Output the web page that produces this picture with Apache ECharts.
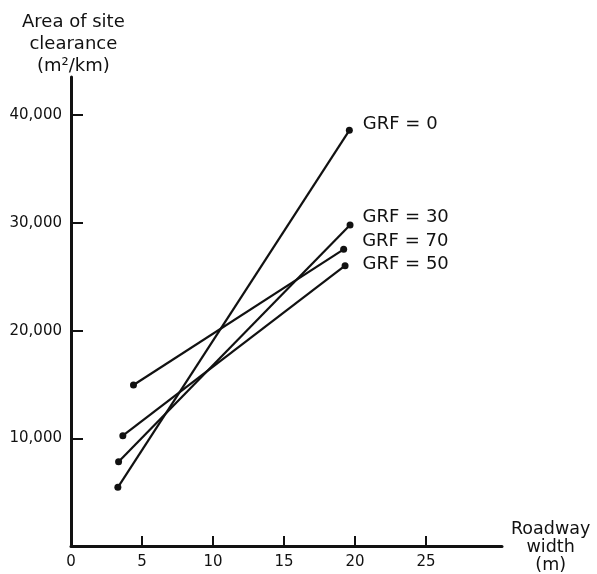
<!DOCTYPE html>
<html>
<head>
<meta charset="utf-8">
<script src="https://cdn.jsdelivr.net/npm/echarts@6/dist/echarts.min.js"></script>
<style>
html,body{margin:0;padding:0;background:#fff;}
#c{width:597px;height:574px;}
</style>
</head>
<body>
<div id="c"></div>
<script>
// Data
const seriesNames = ['GRF = 0', 'GRF = 30', 'GRF = 70', 'GRF = 50'];
const grf0  = [[3.3, 5450], [19.6, 38600]];
const grf30 = [[3.35, 7830], [19.65, 29800]];
const grf70 = [[4.4, 14950], [19.2, 27550]];
const grf50 = [[3.65, 10240], [19.3, 26030]];
const xTicks = [0, 5, 10, 15, 20, 25];
const yTicks = [10000, 20000, 30000, 40000];

const font = '"DejaVu Sans", "Liberation Sans", Arial, sans-serif';
const ink = '#111';
const labelOffsets = [[5, -6], [4, -8], [10, -8], [9, -1]];

function mkSeries(name, pts, i) {
  return {
    name: name,
    type: 'line',
    data: pts.map((p, j) => j === pts.length - 1 ? {
      value: p,
      label: {
        show: true, position: 'right', formatter: name,
        offset: labelOffsets[i],
        color: ink, fontFamily: font, fontSize: 18
      }
    } : { value: p }),
    symbol: 'circle',
    symbolSize: 7,
    lineStyle: { color: ink, width: 2.2 },
    itemStyle: { color: ink },
    animation: false,
    z: 3
  };
}

const chart = echarts.init(document.getElementById('c'), null, { renderer: 'canvas' });
chart.setOption({
  backgroundColor: '#fff',
  animation: false,
  grid: { left: 71, top: 77, width: 431, height: 469, containLabel: false },
  xAxis: {
    type: 'value', min: 0, max: 30.35, interval: 5,
    axisLine: { show: true, onZero: false, lineStyle: { color: ink, width: 3 } },
    axisTick: { show: true, inside: true, length: 10, lineStyle: { color: ink, width: 2 }, customValues: xTicks.slice(1) },
    axisLabel: { color: ink, fontFamily: font, fontSize: 15, margin: 9, customValues: xTicks },
    splitLine: { show: false }
  },
  yAxis: {
    type: 'value', min: 0, max: 43550, interval: 10000,
    axisLine: { show: true, lineStyle: { color: ink, width: 3 } },
    axisTick: { show: true, inside: true, length: 12, lineStyle: { color: ink, width: 2 }, customValues: yTicks },
    axisLabel: {
      color: ink, fontFamily: font, fontSize: 15, margin: 9, customValues: yTicks,
      formatter: v => v.toLocaleString('en-US')
    },
    splitLine: { show: false }
  },
  graphic: [
    {
      type: 'text', left: 22, top: 11,
      style: {
        text: 'Area of site\nclearance\n(m²/km)',
        textAlign: 'center', fill: ink, font: '18px ' + font, lineHeight: 22
      }
    },
    {
      type: 'text', left: 511, top: 520,
      style: {
        text: 'Roadway\nwidth\n(m)',
        textAlign: 'center', fill: ink, font: '17.5px ' + font, lineHeight: 18
      }
    }
  ],
  series: [
    mkSeries(seriesNames[0], grf0, 0),
    mkSeries(seriesNames[1], grf30, 1),
    mkSeries(seriesNames[2], grf70, 2),
    mkSeries(seriesNames[3], grf50, 3)
  ]
});
</script>
</body>
</html>
